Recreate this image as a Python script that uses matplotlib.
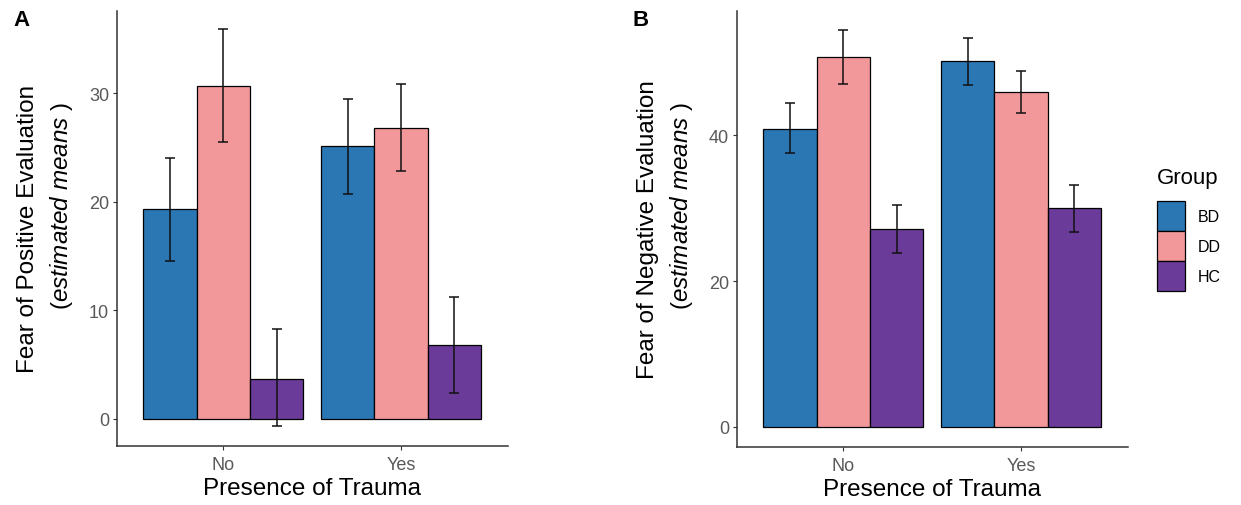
import numpy as np
import matplotlib
matplotlib.use("Agg")
import matplotlib.pyplot as plt
from matplotlib.patches import Patch

plt.rcParams['font.family'] = ['Liberation Sans', 'DejaVu Sans']
plt.rcParams['mathtext.fontset'] = 'custom'
plt.rcParams['mathtext.rm'] = 'Liberation Sans'
plt.rcParams['mathtext.it'] = 'Liberation Sans:italic'

trauma = ['No', 'Yes']
groups = ['BD', 'DD', 'HC']
colors = ['#2A77B4', '#F3989A', '#6A3B98']

# panel A: fear of positive evaluation (rows = group, cols = trauma)
fpe_mean = [[19.3, 25.1], [30.7, 26.8], [3.7, 6.8]]
fpe_low = [[14.5, 20.7], [25.5, 22.8], [-0.7, 2.4]]
fpe_high = [[24.0, 29.5], [35.9, 30.8], [8.3, 11.2]]

# panel B: fear of negative evaluation
fne_mean = [[40.9, 50.2], [50.7, 45.9], [27.2, 30.0]]
fne_low = [[37.5, 46.9], [47.0, 43.0], [23.8, 26.7]]
fne_high = [[44.4, 53.3], [54.5, 48.8], [30.4, 33.2]]

fig = plt.figure(figsize=(12.41, 5.06), dpi=100)
axA = fig.add_axes([0.094, 0.117, 0.315, 0.860])
axB = fig.add_axes([0.5936, 0.115, 0.315, 0.862])


def draw(ax, mean, low, high, ticks, ylim, ylabel):
    x = np.arange(1, len(trauma) + 1)
    w = 0.3
    for i, g in enumerate(groups):
        pos = x + (i - 1) * w
        m = np.array(mean[i])
        err = [m - np.array(low[i]), np.array(high[i]) - m]
        ax.bar(pos, m, width=w, color=colors[i], edgecolor='black', linewidth=0.9, label=g)
        ax.errorbar(pos, m, yerr=err, fmt='none', ecolor='#111111', elinewidth=1.1,
                    capsize=3.6, capthick=1.1)
    ax.set_xlim(0.4, 2.6)
    ax.set_ylim(*ylim)
    ax.set_xticks(x)
    ax.set_xticklabels(trauma)
    ax.set_yticks(ticks)
    for s in ['top', 'right']:
        ax.spines[s].set_visible(False)
    for s in ['left', 'bottom']:
        ax.spines[s].set_color('#333333')
        ax.spines[s].set_linewidth(1.1)
    ax.tick_params(axis='both', colors='#333333', labelcolor='#595959', labelsize=13,
                   length=3, width=0.8, pad=2.5)
    ax.tick_params(axis='x', pad=4.5)
    ax.set_xlabel('Presence of Trauma', fontsize=17.5, labelpad=3)
    ax.set_ylabel(ylabel, fontsize=17.5, linespacing=1.45)
    ax.yaxis.set_label_coords(-0.107, 0.5)


draw(axA, fpe_mean, fpe_low, fpe_high, [0, 10, 20, 30], (-2.5, 37.6),
     'Fear of Positive Evaluation\n       ($\\mathit{estimated\\ means}$ )')
draw(axB, fne_mean, fne_low, fne_high, [0, 20, 40], (-2.75, 57.1),
     'Fear of Negative Evaluation\n       ($\\mathit{estimated\\ means}$ )')

fig.text(13 / 1241, 1 - 20 / 506, 'A', fontsize=16, fontweight='bold', ha='left', va='center')
fig.text(633 / 1241, 1 - 20 / 506, 'B', fontsize=16, fontweight='bold', ha='left', va='center')

fig.text(1157 / 1241, 1 - 184 / 506, 'Group', fontsize=16, ha='left', va='baseline')
handles = [Patch(facecolor=c, edgecolor='black', linewidth=0.9) for c in colors]
fig.legend(handles, groups, loc='upper left', bbox_to_anchor=(1157 / 1241, 1 - 202 / 506),
           frameon=False, fontsize=11.5, handlelength=1.75,
           handleheight=2.5, labelspacing=0.0, handletextpad=0.8, borderaxespad=0,
           borderpad=0)

fig.savefig('out.png', dpi=100)
